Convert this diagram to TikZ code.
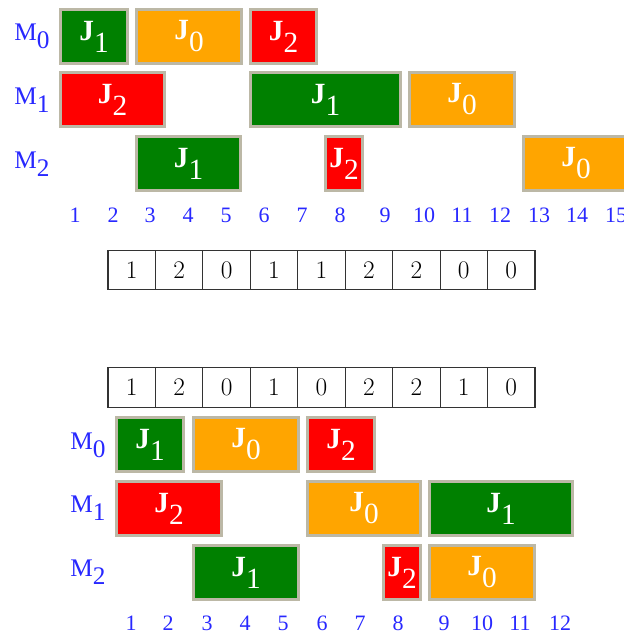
\documentclass[tikz,border=0pt]{standalone}
\usepackage{fontspec}
\newfontfamily\tms{Liberation Serif}
\definecolor{jgreen}{HTML}{008000}
\definecolor{jorange}{HTML}{FFA500}
\definecolor{jred}{HTML}{FF0000}
\definecolor{frame}{HTML}{BCB8A6}
\definecolor{mblue}{RGB}{40,40,255}
\begin{document}
\begin{tikzpicture}[x=0.75pt, y=-0.75pt,
  job/.style={draw=frame, line width=2.2pt, inner sep=0pt, text=white,
    minimum height=40.55pt, font=\tms\fontsize{22}{22}\selectfont\bfseries},
  mlabel/.style={text=mblue, inner sep=0pt, font=\tms\fontsize{19}{19}\selectfont},
  tick/.style={text=mblue, inner sep=0pt, font=\tms\fontsize{16.5}{17}\selectfont},
  cell/.style={draw=black!80, line width=0.8pt, inner sep=0pt,
    minimum width=35.58pt, minimum height=29.4pt, font=\fontsize{19}{19}\selectfont}]
  \useasboundingbox (0,0) rectangle (624,635);
  \foreach \nm/\xa/\xb/\yt/\c/\j in {
      a01/59/129/8/jgreen/1, a02/135/243/8/jorange/0, a03/249/318/8/jred/2,
      a11/59/166/71/jred/2, a12/249/402/71/jgreen/1, a13/408/516/71/jorange/0,
      a21/135/242/135/jgreen/1, a22/324/364/135/jred/2, a23/522/630/135/jorange/0,
      b01/115/185/416/jgreen/1, b02/192/300/416/jorange/0, b03/306/376/416/jred/2,
      b11/115/223/480/jred/2, b12/306/422/480/jorange/0, b13/428/574/480/jgreen/1,
      b21/192/300/544/jgreen/1, b22/382/422/544/jred/2, b23/428/536/544/jorange/0}
    \node[job, fill=\c, minimum width={(\xb-\xa)*0.75pt-2.2pt}] (\nm)
      at ({(\xa+\xb)/2},\yt+28.5) {J\raisebox{-9pt}{\mdseries\j}};
  \foreach \r/\y in {0/36, 1/100, 2/164}
    \node[mlabel] (ma\r) at (32,\y) {M\raisebox{-6pt}{\r}};
  \foreach \r/\y in {0/445, 1/508, 2/572}
    \node[mlabel] (mb\r) at (88,\y) {M\raisebox{-6pt}{\r}};
  \foreach \x [count=\i] in {75,113,150,188,226,264,302,340,385,424,462,500,539,577,616}
    \node[tick] (ta\i) at (\x,215) {\i};
  \foreach \x [count=\i] in {131,168,207,245,283,322,360,398,444,482,520,560}
    \node[tick] (tb\i) at (\x,623) {\i};
  \foreach \v [count=\i] in {1,2,0,1,1,2,2,0,0}
    \node[cell] (c\i) at ({108+47.44*(\i-0.5)},270) {\v};
  \foreach \v [count=\i] in {1,2,0,1,0,2,2,1,0}
    \node[cell] (d\i) at ({108+47.44*(\i-0.5)},387.5) {\v};
\end{tikzpicture}
\end{document}
